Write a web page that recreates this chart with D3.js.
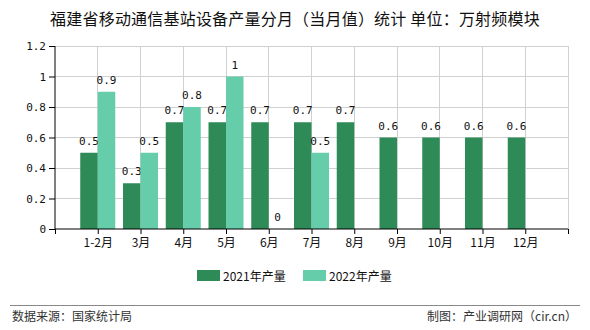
<!DOCTYPE html>
<html><head><meta charset="utf-8">
<script src="https://cdn.jsdelivr.net/npm/d3@7"></script>
<style>body{margin:0;background:#fff;} svg{display:block;}</style>
</head><body>
<svg id="c" width="590" height="330"></svg>
<script>
const categories = ["1-2月","3月","4月","5月","6月","7月","8月","9月","10月","11月","12月"];
const series2021 = [0.5,0.3,0.7,0.7,0.7,0.7,0.7,0.6,0.6,0.6,0.6];
const series2022 = [0.9,0.5,0.8,1,0,0.5,null,null,null,null,null];
const yTicks = [0,0.2,0.4,0.6,0.8,1,1.2];
const seriesNames = ["2021年产量","2022年产量"];
const colors = ["#2E8B57","#66CDAA"];

const svg = d3.select("#c");
const L = 55, R = 568, T = 46, B = 229;
const domain = ["_s", ...categories, "_e"];
const x = d3.scalePoint().domain(domain).range([L, R]);
const y = d3.scaleLinear().domain([0, 1.2]).range([B, T]);
const bw = 17.5;
const monoFont = "'DejaVu Sans Mono', monospace";
const cjk = "'Noto Sans CJK SC', sans-serif";

svg.append("text").attr("x", 295).attr("y", 25).attr("text-anchor","middle")
  .attr("font-family", cjk).attr("font-size", 16).attr("letter-spacing", 0.2).attr("fill","#111")
  .text("福建省移动通信基站设备产量分月（当月值）统计 单位：万射频模块");

// grid
const g = svg.append("g");
g.selectAll(".hg").data(yTicks.slice(1)).join("line")
  .attr("x1", L).attr("x2", R).attr("y1", d=>y(d)).attr("y2", d=>y(d))
  .attr("stroke","#d0d0d0").attr("stroke-width",1).attr("shape-rendering","crispEdges");
g.selectAll(".vg").data(domain.slice(1)).join("line")
  .attr("x1", d=>x(d)).attr("x2", d=>x(d)).attr("y1", T).attr("y2", B)
  .attr("stroke","#d0d0d0").attr("stroke-width",1).attr("shape-rendering","crispEdges");

// bars
const all = [series2021, series2022];
all.forEach((s, si) => {
  const data = categories.map((c,i)=>({c, v:s[i]})).filter(d=>d.v!==null);
  svg.append("g").selectAll("rect").data(data).join("rect")
    .attr("x", d => x(d.c) + (si===0 ? -bw : 0))
    .attr("width", bw)
    .attr("y", d => y(d.v)).attr("height", d => B - y(d.v))
    .attr("fill", colors[si]);
  svg.append("g").selectAll("text").data(data).join("text")
    .attr("x", d => x(d.c) + (si===0 ? -bw/2 : bw/2))
    .attr("y", d => y(d.v) - 8)
    .attr("text-anchor","middle").attr("font-family", monoFont).attr("font-size", 11)
    .attr("fill","#111").text(d => d.v);
});

// axes
const yAxis = d3.axisLeft(y).tickValues(yTicks).tickSize(6).tickPadding(3).tickFormat(d=>d);
const ya = svg.append("g").attr("transform",`translate(${L},0)`).call(yAxis);
ya.select(".domain").attr("stroke","#000").attr("d",`M-0,${T}V${B}`);
ya.selectAll("text").attr("font-family", monoFont).attr("font-size", 11).attr("fill","#111");

const xAxis = d3.axisBottom(x).tickValues(domain).tickSize(5).tickPadding(4)
  .tickFormat(d => d.startsWith("_") ? "" : d);
const xa = svg.append("g").attr("transform",`translate(0,${B})`).call(xAxis);
xa.select(".domain").attr("stroke","#000").attr("d",`M${L},0H${R}`);
xa.selectAll("text").attr("font-family", cjk).attr("font-size", 12).attr("fill","#111");

// legend
const leg = [{x:197, n:seriesNames[0], c:colors[0]}, {x:303, n:seriesNames[1], c:colors[1]}];
leg.forEach(l => {
  svg.append("rect").attr("x", l.x).attr("y", 270).attr("width", 23).attr("height", 11).attr("fill", l.c);
  svg.append("text").attr("x", l.x + 26).attr("y", 280.5).attr("font-family", cjk)
    .attr("font-size", 12).attr("fill","#111").text(l.n);
});

svg.append("line").attr("x1",10).attr("x2",580).attr("y1",305.5).attr("y2",305.5)
  .attr("stroke","#888").attr("stroke-width",1);
svg.append("text").attr("x",12).attr("y",321).attr("font-family",cjk).attr("font-size",12)
  .attr("fill","#333").text("数据来源：国家统计局");
svg.append("text").attr("x",577).attr("y",321).attr("text-anchor","end").attr("font-family",cjk)
  .attr("font-size",12).attr("fill","#333").text("制图：产业调研网（cir.cn）");
</script>
</body></html>
